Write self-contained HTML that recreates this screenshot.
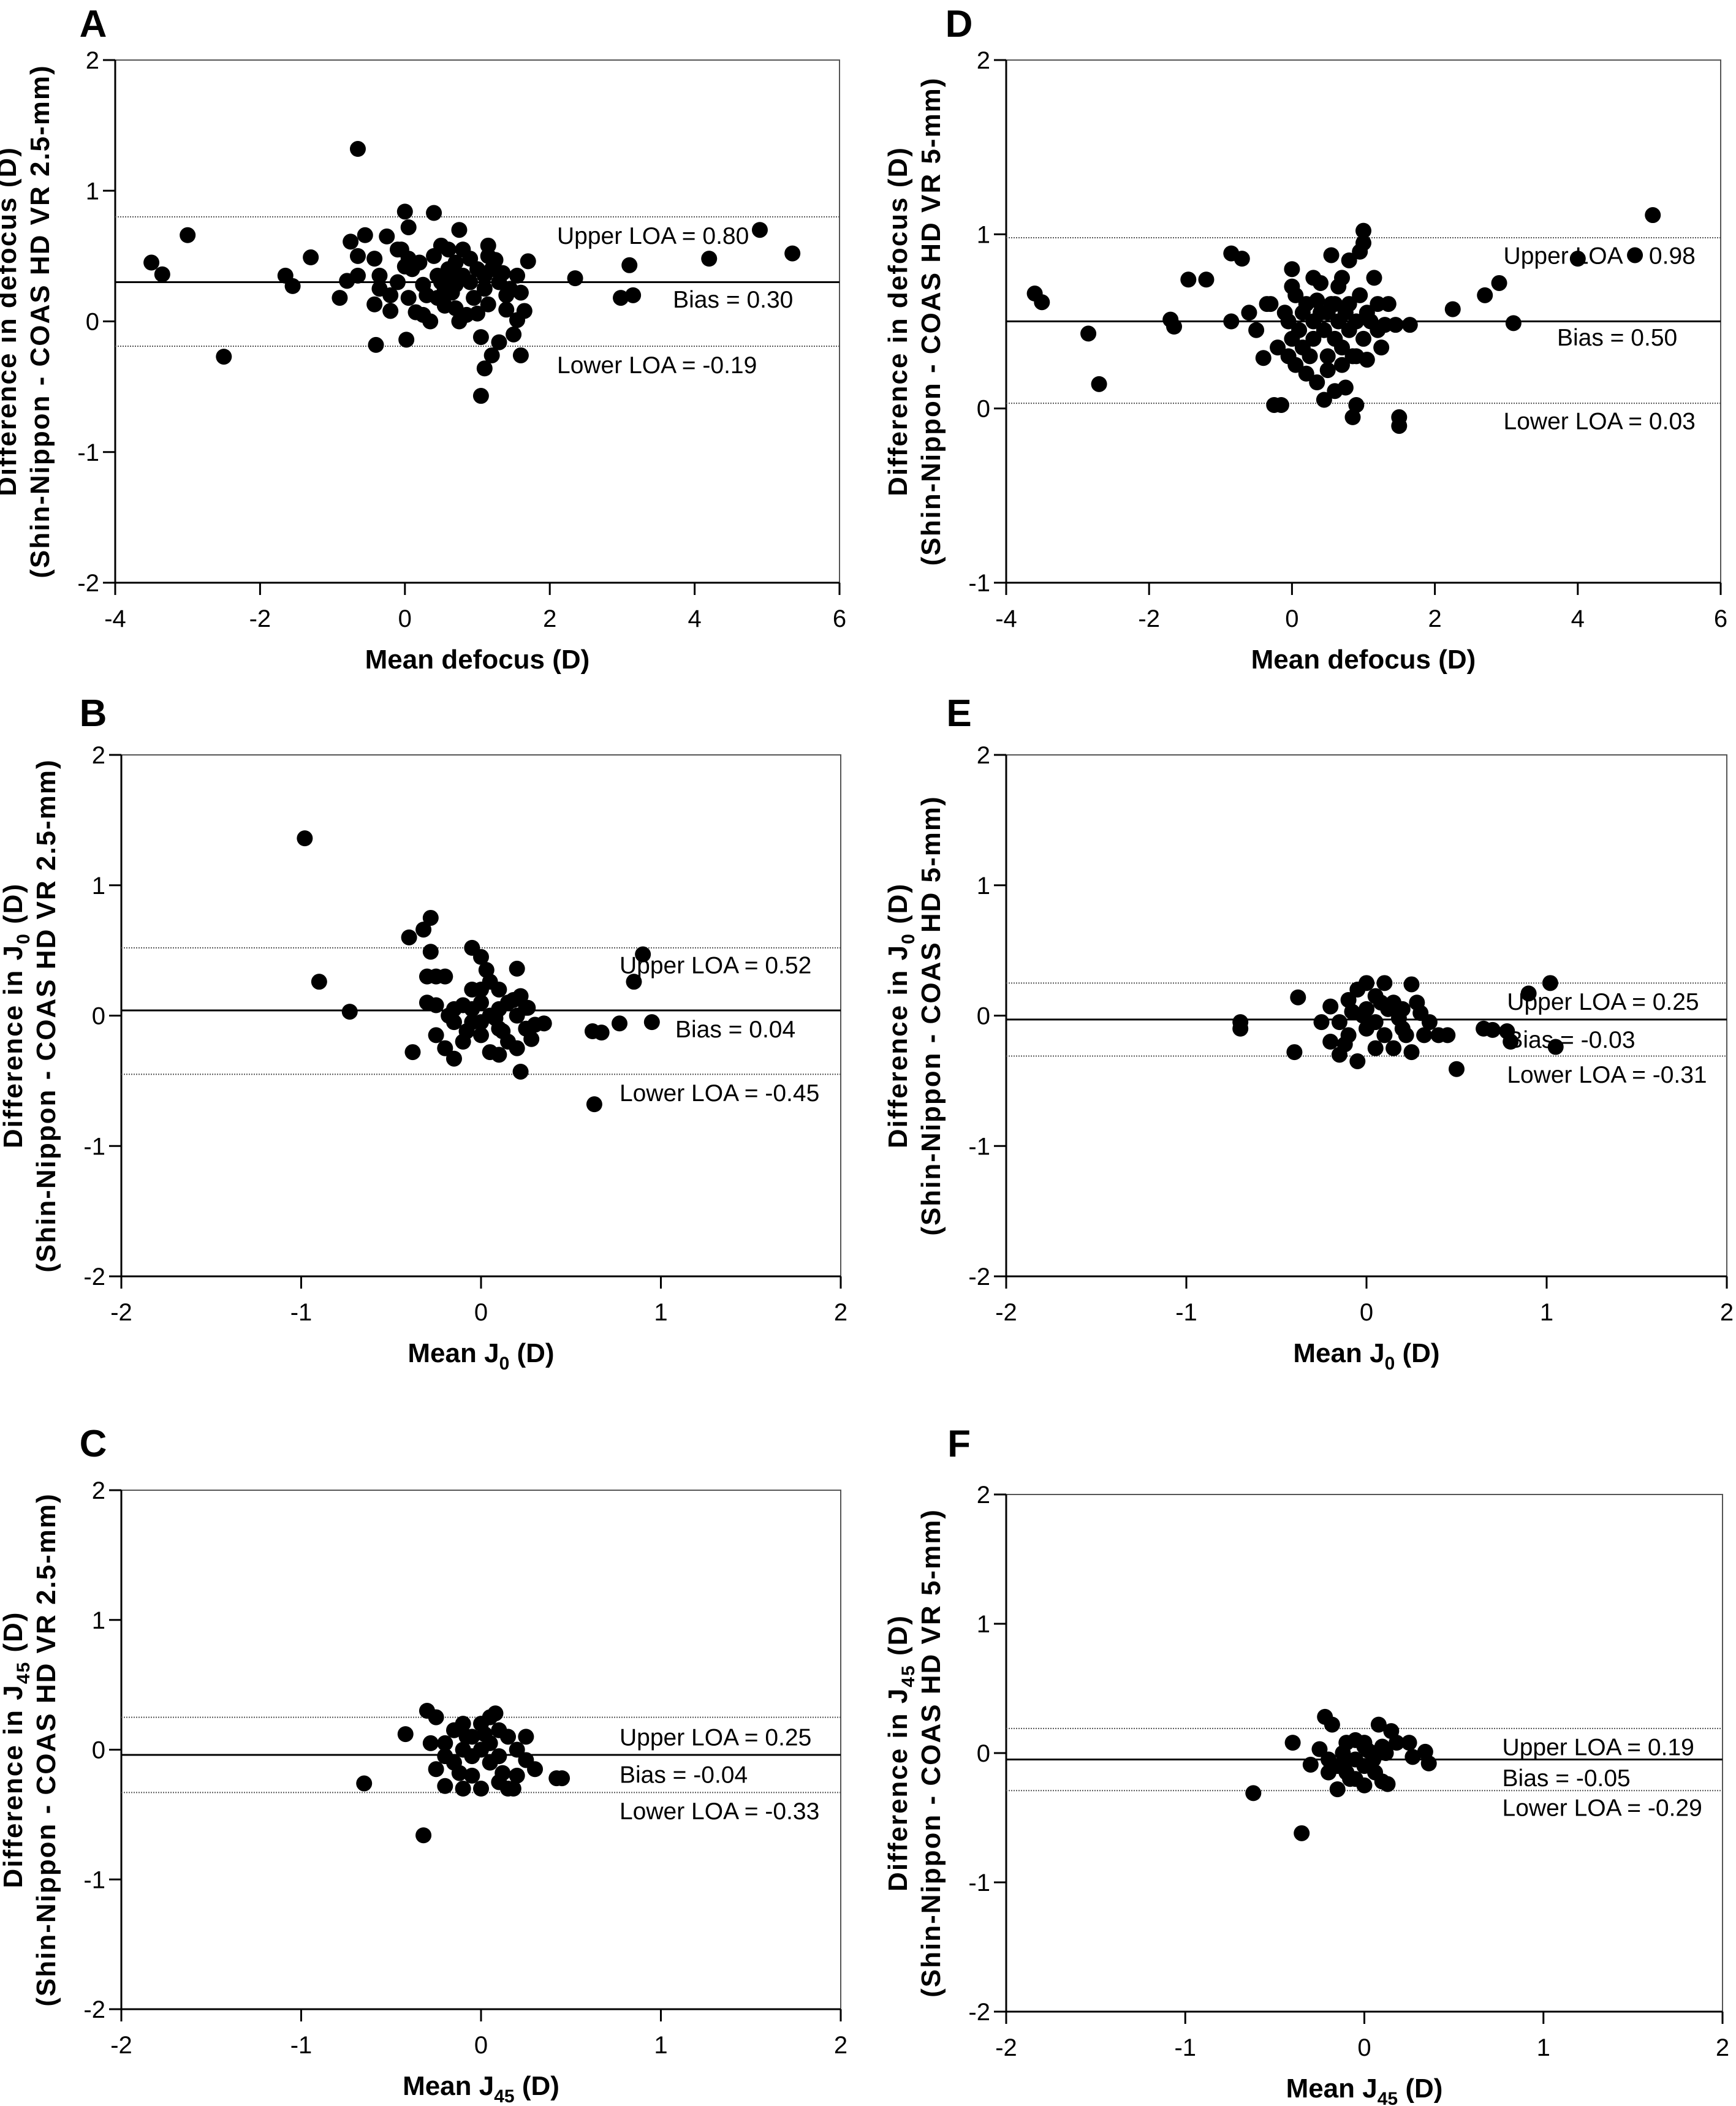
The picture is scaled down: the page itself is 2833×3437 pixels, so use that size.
<!DOCTYPE html>
<html><head><meta charset="utf-8"><style>
html,body{margin:0;padding:0;background:#fff}
svg{display:block}
.tk{font-family:"Liberation Sans Narrow","Liberation Sans",sans-serif;font-size:40px;fill:#000}
.ann{font-family:"Liberation Sans Narrow","Liberation Sans",sans-serif;font-size:39px;fill:#000}
.ttl{font-family:"Liberation Sans",sans-serif;font-weight:bold;font-size:44px;fill:#000}
.lt{font-family:"Liberation Sans",sans-serif;font-weight:bold;font-size:62px;fill:#000}
</style></head><body>
<svg id="fig" xmlns="http://www.w3.org/2000/svg" width="2833" height="3437" viewBox="0 0 2833 3437"></svg>
<script>
// ---- data (x = mean, y = difference) ----
const aX=[-3.5,-3.35,-3.0,-2.5,-1.65,-1.55,-1.3,-0.9,-0.75,-0.8,-0.65,-0.65,-0.65,-0.55,-0.42,-0.42,-0.35,-0.35,-0.25,-0.2,-0.2,-0.4,-0.1,-0.1,0,0.05,-0.05,0,0.05,0.1,0.05,0.02,0.15,0.2,0.25,0.25,0.3,0.35,0.4,0.4,0.45,0.5,0.5,0.55,0.55,0.6,0.6,0.65,0.65,0.7,0.7,0.75,0.75,0.8,0.8,0.85,0.9,0.9,0.95,1.0,1.0,1.05,1.05,1.1,1.1,1.15,1.15,1.15,1.2,1.2,1.1,1.25,1.3,1.3,1.35,1.4,1.4,1.45,1.5,1.55,1.55,1.6,1.6,1.65,1.7,2.35,2.98,3.1,3.15,4.2,4.9,5.35,0.6,0.65,0.7,0.55,0.45];
const aY=[0.45,0.36,0.66,-0.27,0.35,0.27,0.49,0.18,0.61,0.31,1.32,0.5,0.35,0.66,0.48,0.13,0.35,0.25,0.65,0.2,0.08,-0.18,0.55,0.3,0.84,0.72,0.55,0.42,0.48,0.4,0.18,-0.14,0.07,0.45,0.05,0.28,0.2,0.0,0.83,0.5,0.35,0.58,0.3,0.2,0.12,0.55,0.4,0.3,0.22,0.1,0.45,0.0,0.7,0.55,0.35,0.05,0.48,0.3,0.18,0.4,0.06,-0.12,-0.57,0.35,0.25,0.58,0.5,0.13,0.4,-0.26,-0.36,0.47,0.3,-0.16,0.37,0.2,0.09,0.25,-0.1,0.35,0.01,0.22,-0.26,0.08,0.46,0.33,0.18,0.43,0.2,0.48,0.7,0.52,0.33,0.38,0.28,0.25,0.18];
const aLines=[0.80,0.30,-0.19];
const aLabels=["Upper LOA = 0.80","Bias = 0.30","Lower LOA = -0.19"];

const dX=[-3.6,-3.5,-2.85,-2.7,-1.7,-1.65,-1.45,-1.2,-0.85,-0.85,-0.7,-0.6,-0.5,-0.4,-0.35,-0.3,-0.25,-0.2,-0.15,-0.1,-0.05,0,0,0,0.05,0.05,0.1,0.15,0.2,0.2,0.25,0.3,0.3,0.35,0.4,0.4,0.45,0.5,0.5,0.55,0.55,0.6,0.6,0.6,0.65,0.7,0.7,0.7,0.75,0.75,0.8,0.8,0.8,0.85,0.85,0.9,0.9,0.95,0.95,1.0,1.0,1.0,1.05,1.05,1.1,1.15,1.2,1.2,1.25,1.3,1.35,1.45,1.5,1.5,1.65,2.25,2.7,2.9,3.1,4.0,4.8,5.05,-0.05,0.15,0.3,0.5,0.65,0.9,0.45,0.35];
const dY=[0.66,0.61,0.43,0.14,0.51,0.47,0.74,0.74,0.89,0.5,0.86,0.55,0.45,0.29,0.6,0.6,0.02,0.35,0.02,0.55,0.5,0.8,0.7,0.4,0.25,0.65,0.45,0.55,0.2,0.6,0.3,0.75,0.5,0.15,0.55,0.72,0.45,0.3,0.22,0.88,0.6,0.4,0.1,0.6,0.5,0.35,0.75,0.25,0.55,0.12,0.85,0.45,0.6,0.3,-0.05,0.5,0.02,0.9,0.65,1.02,0.95,0.4,0.55,0.28,0.5,0.75,0.6,0.45,0.35,0.48,0.6,0.48,-0.05,-0.1,0.48,0.57,0.65,0.72,0.49,0.86,0.88,1.11,0.3,0.35,0.4,0.55,0.7,0.3,0.05,0.62];
const dLines=[0.98,0.50,0.03];
const dLabels=["Upper LOA = 0.98","Bias = 0.50","Lower LOA = 0.03"];

const bX=[-0.98,-0.9,-0.73,-0.4,-0.32,-0.28,-0.28,-0.38,-0.3,-0.25,-0.2,-0.3,-0.25,-0.15,-0.05,0,0.05,0.2,0.1,0.25,-0.25,-0.2,-0.15,-0.05,0,0.05,0.1,0.15,0.2,0.05,-0.1,-0.05,0,0.1,0.15,0.2,0.25,0.3,0.35,0.22,0.62,0.67,0.77,0.85,0.9,0.95,0.63,-0.05,0.0,0.08,0.12,0.18,0.28,-0.15,-0.1,0.03,0.1,0.22,0.26,-0.18,-0.08,0.0];
const bY=[1.36,0.26,0.03,0.6,0.66,0.75,0.49,-0.28,0.3,0.3,0.3,0.1,0.08,0.05,0.52,0.45,0.26,0.36,0.2,0.06,-0.15,-0.25,-0.33,-0.05,0.1,0,-0.1,-0.2,-0.25,-0.28,-0.2,0.2,-0.15,0.05,0.1,0.0,-0.1,-0.07,-0.06,-0.43,-0.12,-0.13,-0.06,0.26,0.47,-0.05,-0.68,0.05,-0.05,-0.02,-0.12,0.12,-0.18,-0.05,0.08,0.35,-0.3,0.15,0.06,0.0,-0.12,0.2];
const bLines=[0.52,0.04,-0.45];
const bLabels=["Upper LOA = 0.52","Bias = 0.04","Lower LOA = -0.45"];

const eX=[-0.7,-0.7,-0.4,-0.38,-0.25,-0.2,-0.15,-0.2,-0.1,-0.05,0,0.05,0.1,0.15,0.2,0.25,0.3,0.35,0.4,0.5,0.65,0.7,0.78,0.8,1.02,1.05,0.9,-0.15,-0.1,0,0,0.05,0.1,0.15,0.2,0.05,-0.05,0.12,0.22,0.28,0.08,-0.02,0.18,-0.08,0.45,0.32,-0.12,0.25];
const eY=[-0.05,-0.1,-0.28,0.14,-0.05,-0.2,-0.3,0.07,0.12,0.2,0.25,0.15,0.25,0.1,0.05,0.24,0.02,-0.05,-0.15,-0.41,-0.1,-0.11,-0.12,-0.2,0.25,-0.24,0.17,-0.05,-0.15,-0.1,0.05,-0.05,-0.15,-0.25,-0.1,-0.25,-0.35,0.05,-0.15,0.1,0.1,0.0,-0.02,0.03,-0.15,-0.15,-0.22,-0.28];
const eLines=[0.25,-0.03,-0.31];
const eLabels=["Upper LOA = 0.25","Bias = -0.03","Lower LOA = -0.31"];

const cX=[-0.65,-0.42,-0.32,-0.3,-0.25,-0.28,-0.2,-0.15,-0.1,-0.05,0,0.05,0.08,0.1,0.15,0.2,0.25,0.2,0.15,0.1,0.0,-0.1,-0.2,-0.25,-0.15,-0.05,0.05,0.1,0.0,-0.1,-0.2,0.05,0.25,0.3,0.42,0.45,-0.05,0.12,-0.12,0.18,0.02,-0.08];
const cY=[-0.26,0.12,-0.66,0.3,0.25,0.05,-0.05,0.15,0.2,0.1,0.2,0.25,0.28,0.15,0.1,0.0,-0.08,-0.2,-0.3,-0.25,-0.3,-0.3,-0.28,-0.15,-0.1,-0.05,-0.1,-0.05,0.0,0.0,0.05,0.05,0.1,-0.15,-0.22,-0.22,-0.2,-0.18,-0.18,-0.3,0.12,0.1];
const cLines=[0.25,-0.04,-0.33];
const cLabels=["Upper LOA = 0.25","Bias = -0.04","Lower LOA = -0.33"];

const fX=[-0.62,-0.4,-0.35,-0.22,-0.18,-0.25,-0.3,-0.2,-0.15,-0.1,-0.05,0,0.05,0.08,0.1,0.15,0.18,0.25,0.27,0.34,0.36,0.1,0.13,0,-0.05,-0.1,-0.15,-0.1,-0.05,0,0.05,-0.12,0.02,-0.08,0.06,-0.2,0.0,0.12];
const fY=[-0.31,0.08,-0.62,0.28,0.22,0.03,-0.09,-0.15,-0.28,0.08,0.1,0.05,0.0,0.22,0.05,0.17,0.08,0.08,-0.03,0.01,-0.08,-0.22,-0.24,-0.25,-0.2,-0.15,-0.1,-0.05,-0.05,-0.1,-0.05,0.0,0.02,-0.2,-0.15,-0.05,0.08,0.0];
const fLines=[0.19,-0.05,-0.29];
const fLabels=["Upper LOA = 0.19","Bias = -0.05","Lower LOA = -0.29"];

const xTicksDef=[-4,-2,0,2,4,6];
const xTicksJ=[-2,-1,0,1,2];
const yTicks=[-2,-1,0,1,2];
const yTicksD=[-1,0,1,2];

// ---- layout ----
const panels=[
 {L:'A',xs:aX,ys:aY,lines:aLines,labels:aLabels,x0:188,x1:1370,y0:98,y1:951,xmin:-4,xmax:6,ymin:-2,ymax:2,yt:yTicks,xt:xTicksDef,lab:[[2.1,0.66],[3.7,0.17],[2.1,-0.33]],sub:'',dev:'VR 2.5-mm',lx:152,ly:35},
 {L:'D',xs:dX,ys:dY,lines:dLines,labels:dLabels,x0:1642,x1:2808,y0:98,y1:951,xmin:-4,xmax:6,ymin:-1,ymax:2,yt:yTicksD,xt:xTicksDef,lab:[[2.96,0.88],[3.71,0.41],[2.96,-0.07]],sub:'',dev:'VR 5-mm',lx:1565,ly:35},
 {L:'B',xs:bX,ys:bY,lines:bLines,labels:bLabels,x0:198,x1:1372,y0:1232,y1:2083,xmin:-2,xmax:2,ymin:-2,ymax:2,yt:yTicks,xt:xTicksJ,lab:[[0.77,0.39],[1.08,-0.10],[0.77,-0.59]],sub:'0',dev:'VR 2.5-mm',lx:152,ly:1160},
 {L:'E',xs:eX,ys:eY,lines:eLines,labels:eLabels,x0:1642,x1:2818,y0:1232,y1:2083,xmin:-2,xmax:2,ymin:-2,ymax:2,yt:yTicks,xt:xTicksJ,lab:[[0.78,0.11],[0.78,-0.18],[0.78,-0.45]],sub:'0',dev:'5-mm',lx:1565,ly:1160},
 {L:'C',xs:cX,ys:cY,lines:cLines,labels:cLabels,x0:198,x1:1372,y0:2432,y1:3279,xmin:-2,xmax:2,ymin:-2,ymax:2,yt:yTicks,xt:xTicksJ,lab:[[0.77,0.10],[0.77,-0.19],[0.77,-0.47]],sub:'45',dev:'VR 2.5-mm',lx:152,ly:2352},
 {L:'F',xs:fX,ys:fY,lines:fLines,labels:fLabels,x0:1642,x1:2811,y0:2439,y1:3283,xmin:-2,xmax:2,ymin:-2,ymax:2,yt:yTicks,xt:xTicksJ,lab:[[0.77,0.05],[0.77,-0.19],[0.77,-0.42]],sub:'45',dev:'VR 5-mm',lx:1565,ly:2352}
];
const NS='http://www.w3.org/2000/svg';
const svg=document.getElementById('fig');
function mk(tag,attrs,parent){const e=document.createElementNS(NS,tag);for(const k in attrs)e.setAttribute(k,attrs[k]);(parent||svg).appendChild(e);return e;}

panels.forEach(p=>{
  const g=mk('g',{});
  
  
  const sx=v=>p.x0+(v-p.xmin)/(p.xmax-p.xmin)*(p.x1-p.x0);
  const sy=v=>p.y1-(v-p.ymin)/(p.ymax-p.ymin)*(p.y1-p.y0);
  const lt=mk('text',{x:p.lx,y:p.ly+25,'text-anchor':'middle',class:'lt'},g);lt.textContent=p.L;
  
  
  const fr=mk('rect',{x:p.x0,y:p.y0,width:p.x1-p.x0,height:p.y1-p.y0,fill:'none',stroke:'#555','stroke-width':2},g);
  
  
  const ya=mk('line',{x1:p.x0,y1:p.y0,x2:p.x0,y2:p.y1,stroke:'#000','stroke-width':3},g);
  
  
  const xa=mk('line',{x1:p.x0,y1:p.y1,x2:p.x1,y2:p.y1,stroke:'#000','stroke-width':3},g);
  
  
  p.xt.forEach(t=>{
    const X=sx(t);
    const tl=mk('line',{x1:X,y1:p.y1,x2:X,y2:p.y1+20,stroke:'#000','stroke-width':3},g);
    
    
    const tx=mk('text',{x:X,y:p.y1+72,'text-anchor':'middle',class:'tk'},g);tx.textContent=t;
    
    
  });
  p.yt.forEach(t=>{
    const Y=sy(t);
    const tl=mk('line',{x1:p.x0-20,y1:Y,x2:p.x0,y2:Y,stroke:'#000','stroke-width':3},g);
    
    
    const tx=mk('text',{x:p.x0-26,y:Y+14,'text-anchor':'end',class:'tk'},g);tx.textContent=t;
    
    
  });
  p.lines.forEach((v,i)=>{
    const Y=sy(v);
    const ln=mk('line',{x1:p.x0,y1:Y,x2:p.x1,y2:Y,stroke:i===1?'#000':'#555','stroke-width':i===1?3:2,'stroke-dasharray':i===1?'none':'2 2'},g);
    
    
  });
  p.xs.forEach((x,i)=>{
    const c=mk('circle',{cx:sx(x),cy:sy(p.ys[i]),r:13,fill:'#000'},g);
    
    
  });
  p.labels.forEach((s,i)=>{
    const t=mk('text',{x:sx(p.lab[i][0]),y:sy(p.lab[i][1])+14,class:'ann'},g);t.textContent=s;
    
    
  });
  const cx=(p.x0+p.x1)/2;
  const xt=mk('text',{x:cx,y:p.y1+140,'text-anchor':'middle',class:'ttl'},g);
  
  
  if(p.sub){xt.innerHTML='Mean J<tspan font-size="30" dy="12">'+p.sub+'</tspan><tspan dy="-12"> (D)</tspan>';}
  else xt.textContent='Mean defocus (D)';
  const cy=(p.y0+p.y1)/2;
  const bx=p.x0-162;
  const y1t=mk('text',{transform:'translate('+bx+','+cy+') rotate(-90)','text-anchor':'middle',class:'ttl','letter-spacing':'2'},g);
  
  
  if(p.sub){y1t.innerHTML='Difference in J<tspan font-size="30" dy="12">'+p.sub+'</tspan><tspan dy="-12"> (D)</tspan>';}
  else y1t.textContent='Difference in defocus (D)';
  const y2t=mk('text',{transform:'translate('+(bx+54)+','+cy+') rotate(-90)','text-anchor':'middle',class:'ttl','letter-spacing':'2'},g);
  y2t.textContent='(Shin-Nippon - COAS HD '+p.dev+')';
  
  
});
</script>
</body></html>
